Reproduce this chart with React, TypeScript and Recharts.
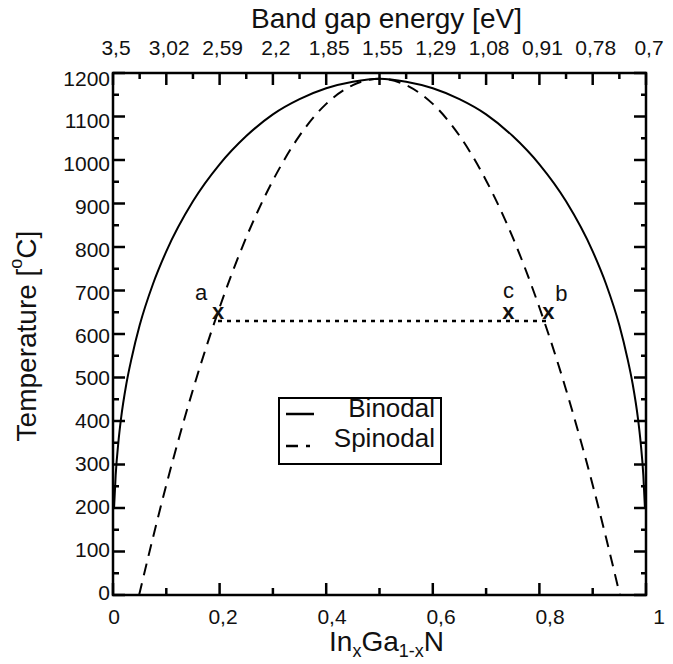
import {
  ComposedChart,
  Label,
  Legend,
  Line,
  ReferenceArea,
  XAxis,
  YAxis,
} from 'recharts';

const FONT = '"Liberation Sans", Arial, Helvetica, sans-serif';
const INK = '#111';

// Indium fraction x of InxGa1-xN against temperature in °C
const binodalX = [
  0.002, 0.005, 0.01, 0.015, 0.025, 0.035, 0.05, 0.075, 0.1, 0.15, 0.2, 0.25, 0.3, 0.35, 0.4, 0.45, 0.5,
  0.55, 0.6, 0.65, 0.7, 0.75, 0.8, 0.85, 0.9, 0.925, 0.95, 0.965, 0.975, 0.985, 0.99, 0.995, 0.998,
];
const binodalT = [
  200, 275, 350, 405, 485, 545, 620, 715, 790, 905, 990, 1055, 1105, 1140, 1165, 1180, 1187,
  1180, 1165, 1140, 1105, 1055, 990, 905, 790, 715, 620, 545, 485, 405, 350, 275, 200,
];

const spinodalX = [
  0.049, 0.075, 0.1, 0.125, 0.15, 0.2, 0.25, 0.3, 0.35, 0.4, 0.45, 0.5,
  0.55, 0.6, 0.65, 0.7, 0.75, 0.8, 0.85, 0.875, 0.9, 0.925, 0.951,
];
const spinodalT = [
  0, 132, 253, 366, 472, 661, 822, 953, 1056, 1129, 1172, 1187,
  1172, 1129, 1056, 953, 822, 661, 472, 366, 253, 132, 0,
];

// marked compositions on the tie line
const pointNames = ['a', 'c', 'b'];
const pointX = [0.197, 0.742, 0.817];
const pointT = [630, 630, 630];

const tempTicks = [
  0, 50, 100, 150, 200, 250, 300, 350, 400, 450, 500, 550, 600,
  650, 700, 750, 800, 850, 900, 950, 1000, 1050, 1100, 1150, 1200,
];
const compTicks = [0, 0.1, 0.2, 0.3, 0.4, 0.5, 0.6, 0.7, 0.8, 0.9, 1];
const gapTicks = [
  0, 0.05, 0.1, 0.15, 0.2, 0.25, 0.3, 0.35, 0.4, 0.45, 0.5,
  0.55, 0.6, 0.65, 0.7, 0.75, 0.8, 0.85, 0.9, 0.95, 1,
];
const gapLabels = ['3,5', '3,02', '2,59', '2,2', '1,85', '1,55', '1,29', '1,08', '0,91', '0,78', '0,7'];

const binodal = binodalX.map((x, i) => ({ x, t: binodalT[i] }));
const spinodal = spinodalX.map((x, i) => ({ x, t: spinodalT[i] }));
const tiePoints = pointX.map((x, i) => ({ x, t: pointT[i], name: pointNames[i] }));

const labelOffset: Record<string, [number, number]> = {
  a: [-17, -21],
  c: [0, -23],
  b: [13, -20],
};

const textProps = { fontFamily: FONT, fill: INK };

function LeftTick({ x, y, payload }: any) {
  const v = payload.value;
  const major = v % 100 === 0;
  return (
    <g>
      <line x1={x} y1={y} x2={x + (major ? 12 : 6)} y2={y} stroke="#000" strokeWidth={2.5} />
      {major && (
        <text x={x - 3} y={y - 3 + v / 150} textAnchor="end" dominantBaseline="central" fontSize={21} {...textProps}>
          {v}
        </text>
      )}
    </g>
  );
}

function RightTick({ x, y, payload }: any) {
  const major = payload.value % 100 === 0;
  return <line x1={x} y1={y} x2={x - (major ? 12 : 5)} y2={y} stroke="#000" strokeWidth={2.5} />;
}

function BottomTick({ x, y, payload }: any) {
  const v = payload.value;
  const major = Math.round(v * 10) % 2 === 0;
  return (
    <g>
      <line x1={x} y1={y} x2={x} y2={y - (major ? 12 : 7)} stroke="#000" strokeWidth={2.5} />
      {major && (
        // labels drift a little to the right along the axis
        <text x={x + 1 + v * 12} y={y + 29} textAnchor="middle" fontSize={21} {...textProps}>
          {String(v).replace('.', ',')}
        </text>
      )}
    </g>
  );
}

function TopTick({ x, y, payload }: any) {
  const idx = Math.round(payload.value * 20);
  const major = idx % 2 === 0;
  return (
    <g>
      <line x1={x} y1={y} x2={x} y2={y + (major ? 12 : 6)} stroke="#000" strokeWidth={2.5} />
      {major && (
        <text x={x + 3} y={y - 18} textAnchor="middle" fontSize={21} {...textProps}>
          {gapLabels[idx / 2]}
        </text>
      )}
    </g>
  );
}

function CompositionTitle({ viewBox }: any) {
  const cx = viewBox.x + viewBox.width / 2 + 7;
  const y = viewBox.y + 56;
  return (
    <text x={cx} y={y} textAnchor="middle" fontSize={28} {...textProps}>
      In
      <tspan dy={6} fontSize={18}>x</tspan>
      <tspan dy={-6}>Ga</tspan>
      <tspan dy={6} fontSize={18}>1-x</tspan>
      <tspan dy={-6}>N</tspan>
    </text>
  );
}

function GapTitle({ viewBox }: any) {
  return (
    <text x={viewBox.x + viewBox.width / 2 + 7} y={viewBox.y + 15} textAnchor="middle" fontSize={28} {...textProps}>
      Band gap energy [eV]
    </text>
  );
}

function TempTitle({ viewBox }: any) {
  const cx = viewBox.x + 13;
  const cy = viewBox.y + viewBox.height / 2 + 2;
  return (
    <text
      x={cx}
      y={cy}
      transform={`rotate(-90 ${cx} ${cy})`}
      textAnchor="middle"
      dominantBaseline="central"
      fontSize={28}
      {...textProps}
    >
      Temperature [<tspan dy={-10} fontSize={18}>o</tspan>
      <tspan dy={10}>C]</tspan>
    </text>
  );
}

function PointMark({ cx, cy, payload }: any) {
  const [dx, dy] = labelOffset[payload.name];
  return (
    <g key={payload.name}>
      <text x={cx} y={cy - 2} textAnchor="middle" fontSize={22} fontWeight="bold" {...textProps}>
        x
      </text>
      <text x={cx + dx} y={cy + dy} textAnchor="middle" fontSize={22} {...textProps}>
        {payload.name}
      </text>
    </g>
  );
}

const legendRows = [
  { lineY: 15, lineX2: 34, textY: 18 },
  { lineY: 47, lineX2: 30, textY: 48 },
];

function LegendBox({ payload }: any) {
  const items = (payload || []).slice(0, 2);
  return (
    <div
      style={{
        width: 164,
        height: 68,
        boxSizing: 'border-box',
        border: '2.5px solid #000',
        overflow: 'hidden',
        background: '#fff',
      }}
    >
      <svg width={159} height={63} style={{ display: 'block' }}>
        {items.map((entry: any, i: number) => {
          const row = legendRows[i];
          return (
            <g key={entry.value}>
              <line
                x1={6}
                y1={row.lineY}
                x2={row.lineX2}
                y2={row.lineY}
                stroke="#000"
                strokeWidth={2.5}
                strokeDasharray={entry.payload?.strokeDasharray}
              />
              <text x={155} y={row.textY} textAnchor="end" fontSize={26} {...textProps}>
                {entry.value}
              </text>
            </g>
          );
        })}
      </svg>
    </div>
  );
}

export default function App() {
  return (
    <div style={{ position: 'absolute', left: 0, top: 0, background: '#fff' }}>
      <ComposedChart width={673} height={664} margin={{ top: 13, right: 15, bottom: 9, left: 13 }}>
        <XAxis
          xAxisId="bottom"
          dataKey="x"
          type="number"
          domain={[0, 1]}
          allowDataOverflow
          ticks={compTicks}
          interval={0}
          height={60}
          tickSize={0}
          tickMargin={0}
          axisLine={false}
          tickLine={false}
          tick={BottomTick}
        >
          <Label content={CompositionTitle} />
        </XAxis>
        <XAxis
          xAxisId="top"
          orientation="top"
          dataKey="x"
          type="number"
          domain={[0, 1]}
          allowDataOverflow
          ticks={gapTicks}
          interval={0}
          height={60}
          tickSize={0}
          tickMargin={0}
          axisLine={false}
          tickLine={false}
          tick={TopTick}
        >
          <Label content={GapTitle} />
        </XAxis>
        <YAxis
          yAxisId="left"
          type="number"
          domain={[0, 1200]}
          allowDataOverflow
          ticks={tempTicks}
          interval={0}
          width={100}
          tickSize={0}
          tickMargin={0}
          axisLine={false}
          tickLine={false}
          tick={LeftTick}
        >
          <Label content={TempTitle} />
        </YAxis>
        <YAxis
          yAxisId="right"
          orientation="right"
          type="number"
          domain={[0, 1200]}
          allowDataOverflow
          ticks={tempTicks}
          interval={0}
          width={12}
          tickSize={0}
          tickMargin={0}
          axisLine={false}
          tickLine={false}
          tick={RightTick}
        />

        <Legend
          layout="vertical"
          align="center"
          verticalAlign="middle"
          wrapperStyle={{ left: 278, top: 397, width: 164, height: 68 }}
          content={LegendBox}
        />

        <Line
          xAxisId="bottom"
          yAxisId="left"
          name="Binodal"
          data={binodal}
          dataKey="t"
          type="monotone"
          stroke="#000"
          strokeWidth={2}
          dot={false}
          activeDot={false}
          isAnimationActive={false}
        />
        <Line
          xAxisId="bottom"
          yAxisId="left"
          name="Spinodal"
          data={spinodal}
          dataKey="t"
          type="monotone"
          stroke="#000"
          strokeWidth={2}
          strokeDasharray="12 8"
          dot={false}
          activeDot={false}
          isAnimationActive={false}
        />
        <Line
          xAxisId="bottom"
          yAxisId="left"
          name="tie line"
          data={tiePoints}
          dataKey="t"
          type="linear"
          stroke="#000"
          strokeWidth={2.5}
          strokeDasharray="4 5"
          dot={PointMark}
          activeDot={false}
          legendType="none"
          isAnimationActive={false}
        />

        <ReferenceArea
          xAxisId="bottom"
          yAxisId="left"
          x1={0}
          x2={1}
          y1={0}
          y2={1200}
          fill="none"
          stroke="#000"
          strokeWidth={2.5}
          ifOverflow="visible"
        />
      </ComposedChart>
    </div>
  );
}
